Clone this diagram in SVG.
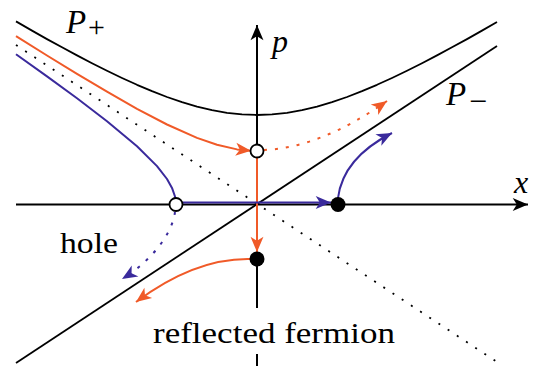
<svg xmlns="http://www.w3.org/2000/svg" width="543" height="366" viewBox="0 0 543 366">
<style>
.ax{stroke:#000;stroke-width:2;fill:none}
.blk{stroke:#000;stroke-width:1.8;fill:none;stroke-linejoin:round}
.dot{stroke:#000;stroke-width:1.8;fill:none;stroke-dasharray:2 9}
.or{stroke:#F05A28;stroke-width:2;fill:none;stroke-linejoin:round}
.bl{stroke:#3A2A9C;stroke-width:2;fill:none;stroke-linejoin:round}
.ord{stroke:#F05A28;stroke-width:2;fill:none;stroke-dasharray:3 8}
.bld{stroke:#3A2A9C;stroke-width:2;fill:none;stroke-dasharray:3 8}
.open{fill:#fff;stroke:#000;stroke-width:1.8}
.full{fill:#000}
text{font-family:"Liberation Serif","DejaVu Serif",serif;fill:#000}
</style>
<defs>
<marker id="ak" markerUnits="userSpaceOnUse" orient="auto" markerWidth="20" markerHeight="20" refX="0" refY="0" viewBox="-15 -8 17 16" overflow="visible"><path d="M0,0 L-13,-5.5 L-9.5,0 L-13,5.5 Z" fill="#000"/></marker>
<marker id="ao" markerUnits="userSpaceOnUse" orient="auto" markerWidth="20" markerHeight="20" refX="0" refY="0" viewBox="-15 -8 17 16" overflow="visible"><path d="M0,0 L-13,-5.5 L-9.5,0 L-13,5.5 Z" fill="#F05A28"/></marker>
<marker id="ab" markerUnits="userSpaceOnUse" orient="auto" markerWidth="20" markerHeight="20" refX="0" refY="0" viewBox="-15 -8 17 16" overflow="visible"><path d="M0,0 L-13,-5.5 L-9.5,0 L-13,5.5 Z" fill="#3A2A9C"/></marker>
</defs>
<g id="connectors">
<line id="x-axis" class="ax" x1="16" y1="204.5" x2="528" y2="204.5" marker-end="url(#ak)"/>
<line id="p-axis" class="ax" x1="257" y1="308" x2="257" y2="25" marker-end="url(#ak)"/>
<line id="p-axis-low" class="ax" x1="257" y1="354" x2="257" y2="366"/>
<polyline id="P-plus" class="blk" points="16,21.4 32,30.6 47,39.1 62,47.3 77,55.4 92,63.2 107,70.8 122,78 137,84.8 152,91.2 167,97 182,102.1 197,106.6 212,110.2 227,112.8 242,114.45 257,115 272,114.45 287,112.8 302,110.2 317,106.6 332,102.1 347,97 362,91.2 377,84.8 392,78 407,70.8 422,63.2 437,55.4 452,47.3 467,39.1 482,30.6 497,22"/>
<line id="P-minus" class="blk" x1="16" y1="363" x2="497" y2="46"/>
<line id="dotted" class="dot" x1="16" y1="45" x2="497" y2="362"/>
<polyline id="orange-in" class="or" points="16,36.1 47,55.5 77,73.9 107,91.7 137,108.8 167,124.5 197,137.9 217,144.8 237,149.4 251,150.8" marker-end="url(#ao)"/>
<polyline id="blue-in" class="bl" points="16,54.3 47,76.4 77,98.3 107,121.2 137,146.2 157,166.1 167,179 172,187.9 175,196.5 176,204.5"/>
<line id="orange-down" class="or" x1="257" y1="157" x2="257" y2="252" marker-end="url(#ao)"/>
<line id="blue-right" class="bl" x1="183" y1="202.5" x2="331" y2="202.5" marker-end="url(#ab)"/>
<path id="orange-dotted" class="ord" d="M264,150 Q320,148 387,101" marker-end="url(#ao)"/>
<path id="blue-up" class="bl" d="M338,198 Q343,158 392,133" marker-end="url(#ab)"/>
<path id="blue-dotted" class="bld" d="M175,212 C172,235 150,262 122,279" marker-end="url(#ab)"/>
<path id="orange-left" class="or" d="M250,259 Q195,258 136,302" marker-end="url(#ao)"/>
</g>
<g id="node-open-top"><circle class="open" cx="257" cy="151" r="6.5"/></g>
<g id="node-open-hole"><circle class="open" cx="176" cy="204.5" r="6.5"/></g>
<g id="node-full-right"><circle class="full" cx="338" cy="204.5" r="7.5"/></g>
<g id="node-full-bottom"><circle class="full" cx="257" cy="259" r="7.5"/></g>
<g id="label-Pplus"><text x="66" y="33" font-size="33" font-style="italic">P</text><text x="88" y="37" font-size="30">+</text></g>
<g id="label-p"><text font-style="italic" x="272" y="52" font-size="32">p</text></g>
<g id="label-x"><text font-style="italic" x="514" y="193" font-size="32">x</text></g>
<g id="label-Pminus"><text x="446" y="105" font-size="33" font-style="italic">P</text><text x="469" y="112" font-size="32">−</text></g>
<g id="label-hole"><text x="60" y="253" font-size="29" textLength="58" lengthAdjust="spacingAndGlyphs">hole</text></g>
<g id="label-reflected"><text x="153" y="343" font-size="29" textLength="242" lengthAdjust="spacingAndGlyphs">reflected fermion</text></g>
</svg>
